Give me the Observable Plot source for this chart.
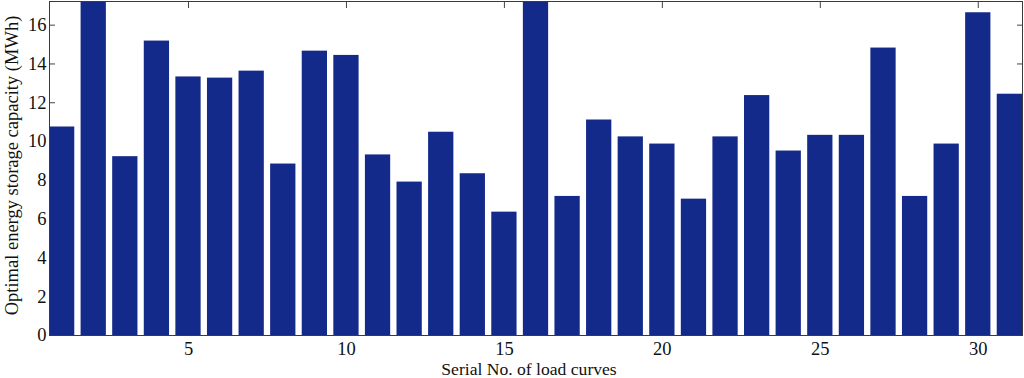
<!DOCTYPE html>
<html>
<head>
<meta charset="utf-8">
<script src="https://cdn.jsdelivr.net/npm/d3@7"></script>
<script src="https://cdn.jsdelivr.net/npm/@observablehq/plot@0.6"></script>
<style>
  html, body { margin: 0; padding: 0; background: #fff; }
  #chart svg { display: block; }
</style>
</head>
<body>
<div id="chart"></div>
<script>
// Serial numbers of the load curves
const serials = [1, 2, 3, 4, 5, 6, 7, 8, 9, 10, 11, 12, 13, 14, 15, 16,
                 17, 18, 19, 20, 21, 22, 23, 24, 25, 26, 27, 28, 29, 30, 31];
// Optimal energy storage capacity (MWh); bars 2 and 16 run off the top of the axes
const capacities = [10.75, 17.8, 9.22, 15.18, 13.33, 13.27, 13.63, 8.84, 14.66, 14.44,
                    9.31, 7.91, 10.48, 8.34, 6.36, 17.8, 7.17, 11.11, 10.24, 9.87,
                    7.03, 10.24, 12.37, 9.51, 10.32, 10.32, 14.82, 7.17, 9.87, 16.64, 12.44];
const xTicks = [5, 10, 15, 20, 25, 30];
const yTicks = [0, 2, 4, 6, 8, 10, 12, 14, 16];
const xLabel = "Serial No. of load curves";
const yLabel = "Optimal energy storage capacity (MWh)";

const data = serials.map((s, i) => ({serial: s, capacity: capacities[i]}));
const blank = () => "";
const tickColor = "#444";

const chart = Plot.plot({
  width: 1024,
  height: 378,
  marginLeft: 49,
  marginRight: 2,
  marginTop: 1,
  marginBottom: 43,
  style: {fontFamily: "'Liberation Serif', 'Times New Roman', serif", fontSize: "18.5px", color: "#111", background: "#fff"},
  x: {type: "band", domain: serials, paddingInner: 0.2, paddingOuter: 0, align: 0.5, round: false},
  y: {domain: [0, 17.22]},
  marks: [
    // inward tick marks on all four sides (drawn beneath the bars)
    Plot.axisX(xTicks, {anchor: "bottom", tickSize: -6, tickFormat: blank, label: null, stroke: tickColor}),
    Plot.axisX(xTicks, {anchor: "top", tickSize: -6, tickFormat: blank, label: null, stroke: tickColor}),
    Plot.axisY(yTicks, {anchor: "left", tickSize: -6, tickFormat: blank, label: null, stroke: tickColor}),
    Plot.axisY(yTicks, {anchor: "right", tickSize: -6, tickFormat: blank, label: null, stroke: tickColor}),
    Plot.barY(data, {x: "serial", y: "capacity", fill: "#142a8a", clip: true}),
    Plot.frame({stroke: "#3a3a3a"}),
    Plot.axisX(xTicks, {anchor: "bottom", tickSize: 0, tickPadding: 6, label: null}),
    Plot.axisY(yTicks, {anchor: "left", tickSize: 0, tickPadding: 3, label: null}),
    Plot.text([xLabel], {frameAnchor: "bottom", dy: 34, dx: -7, lineAnchor: "middle", fontSize: 17.6, fill: "#111"}),
    Plot.text([yLabel], {frameAnchor: "left", rotate: -90, dx: -37, dy: -3, textAnchor: "middle", lineAnchor: "middle", fontSize: 18.5, fill: "#111"})
  ]
});
document.getElementById("chart").append(chart);
</script>
</body>
</html>
